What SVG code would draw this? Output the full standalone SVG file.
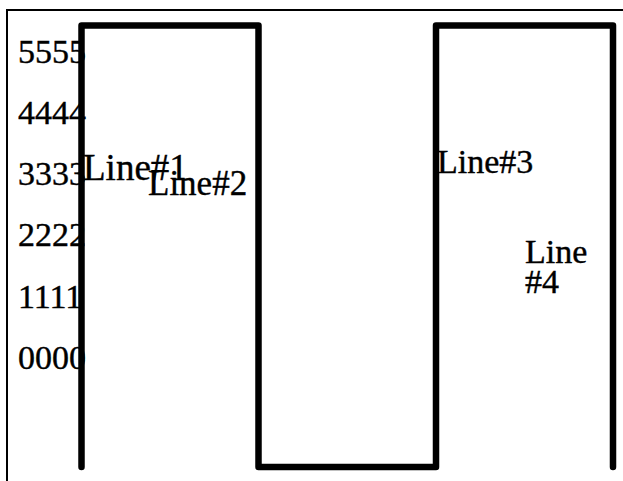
<svg xmlns="http://www.w3.org/2000/svg" width="623" height="481" viewBox="0 0 623 481">
<style>
.lbl{font-family:"Liberation Serif","Times New Roman",serif;fill:#000;stroke:#000;stroke-width:0.4}
.tick{font-size:34px}
.wire{fill:none;stroke:#000;stroke-width:6.5;stroke-linejoin:round;stroke-linecap:round}
</style>
<rect x="7" y="10" width="700" height="600" fill="#fff" stroke="#000" stroke-width="2"/>
<g id="axis-labels">
<text class="lbl tick" x="18" y="63">5555</text>
<text class="lbl tick" x="18" y="124">4444</text>
<text class="lbl tick" x="18" y="185">3333</text>
<text class="lbl tick" x="18" y="246">2222</text>
<text class="lbl tick" x="18" y="308">1111</text>
<text class="lbl tick" x="18" y="369">0000</text>
</g>
<g id="connectors">
<polyline class="wire" points="81.5,467 81.5,25.5 258.5,25.5 258.5,467 436,467 436,25.5 613,25.5 613,467"/>
</g>
<g id="line1"><text class="lbl" x="83" y="180" font-size="37">Line#1</text></g>
<g id="line2"><text class="lbl" x="148" y="195" font-size="35">Line#2</text></g>
<g id="line3"><text class="lbl" x="437" y="173" font-size="34">Line#3</text></g>
<g id="line4"><text class="lbl" x="525" y="263" font-size="34">Line<tspan x="525" y="293">#4</tspan></text></g>
</svg>
